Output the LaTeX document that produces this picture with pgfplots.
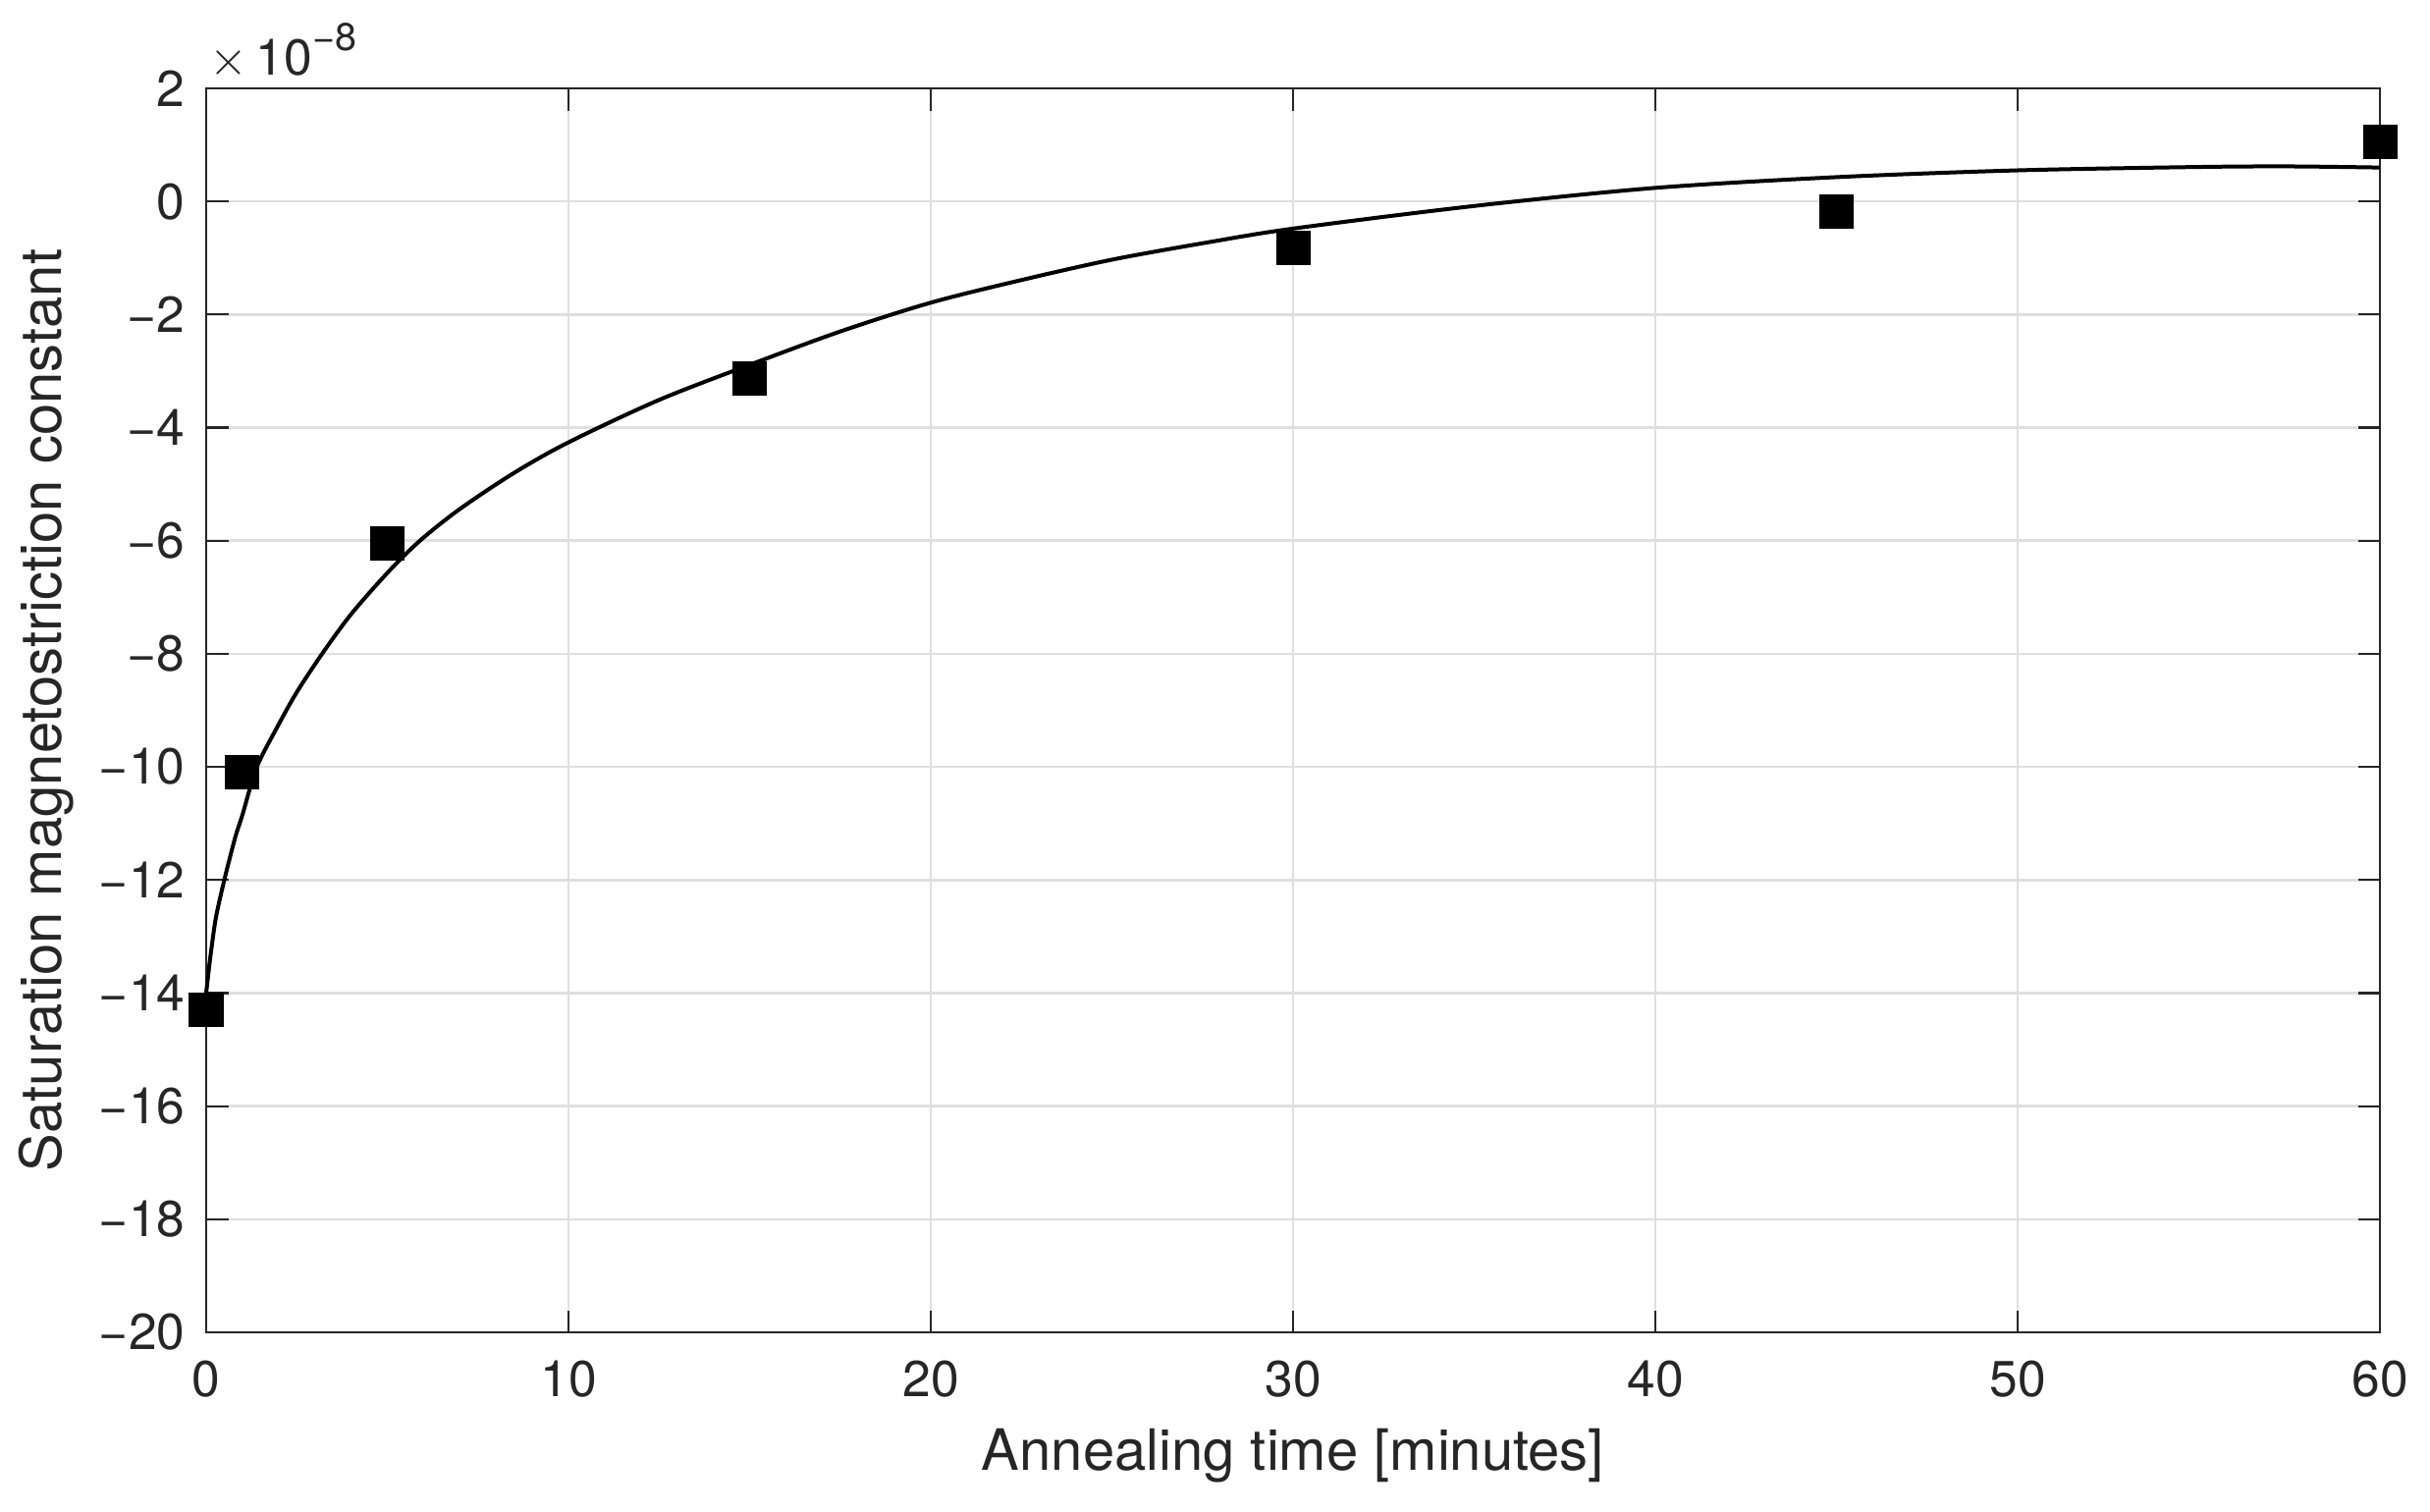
\documentclass[border=0pt]{standalone}
\usepackage{fontspec}
\setmainfont{TeX Gyre Heros}
\usepackage{pgfplots}
\pgfplotsset{compat=1.18}
\definecolor{axgray}{RGB}{38,38,38}
\definecolor{gridgray}{RGB}{223,223,223}
\begin{document}
\begin{tikzpicture}
\useasboundingbox (-42pt,-36.4pt) rectangle (453pt,271.4pt);
\begin{axis}[
  at={(0pt,0pt)}, anchor=south west,
  scale only axis, width=442.8pt, height=253.4pt,
  xmin=0, xmax=60, ymin=-20, ymax=2,
  xtick={0,10,20,30,40,50,60},
  ytick={-20,-18,-16,-14,-12,-10,-8,-6,-4,-2,0,2},
  xticklabels={0,10,20,30,40,50,60},
  yticklabels={−20,−18,−16,−14,−12,−10,−8,−6,−4,−2,0,2},
  tick pos=both, tick align=inside, major tick length=4.5pt,
  grid=major, major grid style={gridgray, line width=0.5pt},
  axis line style={axgray, line width=0.45pt},
  tick style={axgray, line width=0.45pt},
  ticklabel style={font=\fontsize{10.3}{12}\selectfont, text=axgray},
  xticklabel style={yshift=-2.3pt},
  yticklabel style={xshift=-0.8pt},
  label style={font=\fontsize{11.6}{13}\selectfont, text=axgray},
  xlabel={Annealing time [minutes]},
  ylabel={Saturation magnetostriction constant},
  xlabel style={at={(axis description cs:0.5,-0.0994)}, anchor=center},
  ylabel style={at={(axis description cs:-0.0736,0.5)}, anchor=center},
  clip=false,
]
\addplot[black, line width=0.8pt, smooth, tension=0.5] coordinates {
 (0,-14.0) (0.07,-13.6) (0.14,-13.24) (0.27,-12.66) (0.5,-12.0) (0.8,-11.25)
 (1.0,-10.85) (1.4,-10.0) (2.0,-9.25) (2.5,-8.68) (3.2,-8.0) (4.0,-7.3)
 (5.0,-6.57) (5.9,-6.0) (7,-5.44) (8.5,-4.8) (10,-4.26) (12.5,-3.51)
 (15,-2.89) (17.5,-2.30) (20,-1.79) (22.5,-1.39) (25,-1.03) (27.5,-0.74)
 (30,-0.48) (35,-0.08) (40,0.24) (45,0.43) (50,0.55) (55,0.61) (57.5,0.62) (60,0.60)
};
\addplot[only marks, mark=square*, mark size=3.3pt, black] coordinates {
 (0,-14.3) (1,-10.1) (5,-6.05) (15,-3.13) (30,-0.83) (45,-0.18) (60,1.06)
};
\node[anchor=base west, inner sep=0pt, xshift=0.6pt, yshift=2.6pt, text=axgray, font=\fontsize{10.3}{12}\selectfont]
  at (rel axis cs:0,1) {$\times$\hspace{1.6pt}10\raisebox{5.1pt}{\fontsize{7.9}{9}\selectfont −8}};
\end{axis}
\end{tikzpicture}
\end{document}
